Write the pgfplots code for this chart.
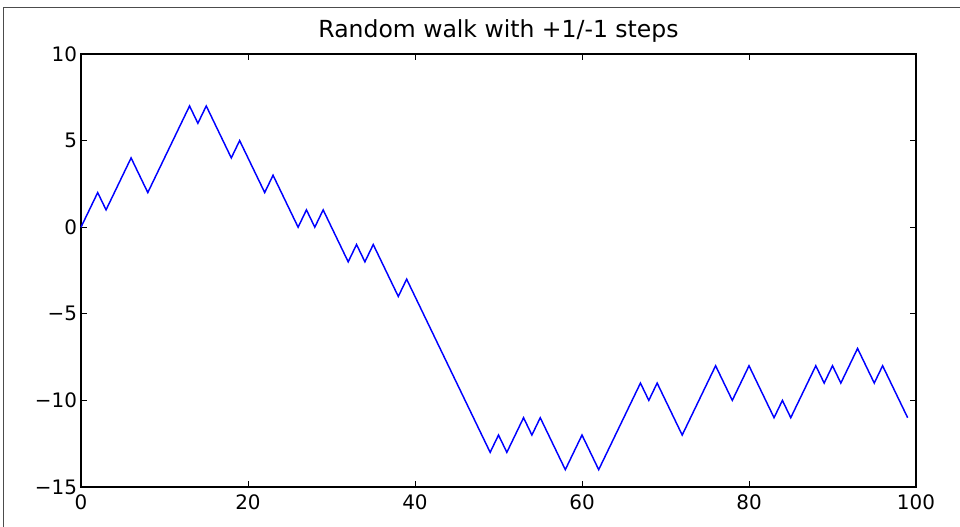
\documentclass[border=0pt]{standalone}
\usepackage{fontspec}
\setmainfont{DejaVu Sans}
\usepackage{pgfplots}
\pgfplotsset{compat=1.18}
\begin{document}
\begin{tikzpicture}
\begin{axis}[
  scale only axis,
  width=626.25bp, height=324.75bp,
  xmin=0, xmax=100, ymin=-15, ymax=10,
  xtick={0,20,40,60,80,100},
  ytick={-15,-10,-5,0,5,10},
  yticklabels={−15,−10,−5,0,5,10},
  tick align=inside,
  xtick pos=both, ytick pos=both,
  major tick length=4.5bp,
  minor tick num=0,
  axis line style={black, line width=0.8bp},
  tick style={black, line width=0.6bp},
  /pgf/number format/assume math mode=true,
  ticklabel style={font=\fontsize{15}{18}\selectfont},
  xticklabel style={yshift=-2bp},
  yticklabel style={xshift=0.5bp},
  title={Random walk with +1/-1 steps},
  title style={font=\fontsize{17.7}{20}\selectfont, at={(0.5,1)}, anchor=base, yshift=6.75bp},
  clip=false,
]
\addplot[blue, line width=1.1bp] coordinates {
(0,0) (2,2) (3,1) (6,4) (8,2) (13,7) (14,6) (15,7) (18,4) (19,5) (22,2) (23,3)
(26,0) (27,1) (28,0) (29,1) (32,-2) (33,-1) (34,-2) (35,-1) (38,-4) (39,-3)
(49,-13) (50,-12) (51,-13) (53,-11) (54,-12) (55,-11) (58,-14) (60,-12) (62,-14)
(67,-9) (68,-10) (69,-9) (72,-12) (76,-8) (78,-10) (80,-8) (83,-11) (84,-10) (85,-11)
(88,-8) (89,-9) (90,-8) (91,-9) (93,-7) (95,-9) (96,-8) (99,-11)
};
\end{axis}
% page frame and bounding box
\path ([xshift=-60.75bp,yshift=-30bp]current axis.south west) coordinate (BL);
\path ([xshift=33bp,yshift=40.5bp]current axis.north east) coordinate (TR);
\useasboundingbox (BL) rectangle (TR);
\draw[gray!60!black, line width=0.75bp] ([xshift=3bp]BL) |- ([yshift=-6bp]TR);
\end{tikzpicture}
\end{document}
